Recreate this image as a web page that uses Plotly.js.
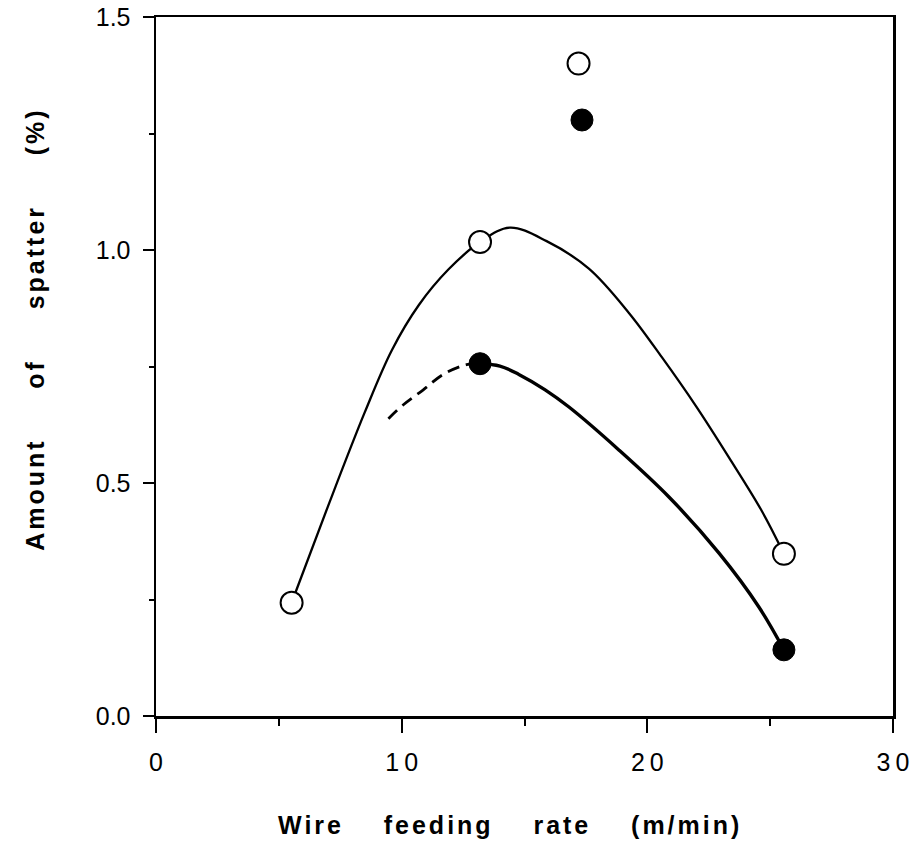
<!DOCTYPE html>
<html><head><meta charset="utf-8">
<script src="https://cdn.plot.ly/plotly-3.0.1.min.js"></script>
<style>body{margin:0;background:#fff}</style>
</head><body>
<div id="chart" style="width:919px;height:848px"></div>
<script>
// Data
const openX = [5.52, 13.19, 17.2, 25.56];
const openY = [0.243, 1.017, 1.40, 0.348];
const filledX = [13.19, 17.34, 25.56];
const filledY = [0.756, 1.279, 0.142];
const curveOpenX = [5.52, 7.0, 8.5, 9.6, 10.7, 11.9, 13.19, 14.4, 15.9, 17.62, 19.25, 20.59, 21.98, 23.32, 24.66, 25.56];
const curveOpenY = [0.243, 0.45, 0.652, 0.785, 0.882, 0.958, 1.017, 1.048, 1.019, 0.96, 0.865, 0.77, 0.665, 0.555, 0.44, 0.348];
const curveFilledX = [13.19, 14.0, 14.77, 15.84, 16.81, 18.84, 20.88, 22.91, 24.54, 25.56];
const curveFilledY = [0.756, 0.751, 0.733, 0.700, 0.663, 0.571, 0.470, 0.350, 0.234, 0.142];
const dashX = [9.46, 10.07, 10.88, 11.69, 12.64, 13.19];
const dashY = [0.638, 0.668, 0.70, 0.733, 0.754, 0.756];
const xTickVals = [0, 10, 20, 30];
const xTickText = ["0", "1\u20090", "2\u20090", "3\u20090"];
const yTickVals = [0, 0.5, 1.0, 1.5];
const yTickText = ["0.0", "0.5", "1.0", "1.5"];
const xTitle = ["Wire", "feeding", "rate", "(m/min)"].join("\u00a0\u00a0\u00a0\u00a0");
const yTitle = ["Amount", "of", "spatter", "(%)"].join("\u00a0\u00a0\u00a0\u00a0\u00a0");

const font = "Liberation Sans, Arial, sans-serif";
const traces = [
  {x: curveOpenX, y: curveOpenY, mode: "lines", line: {color: "#000", width: 2.3, shape: "spline", smoothing: 1, simplify: false}, hoverinfo: "skip"},
  {x: curveFilledX, y: curveFilledY, mode: "lines", line: {color: "#000", width: 3.4, shape: "spline", smoothing: 1, simplify: false}, hoverinfo: "skip"},
  {x: dashX, y: dashY, mode: "lines", line: {color: "#000", width: 2.8, dash: "12px,7px", shape: "spline", smoothing: 1, simplify: false}, hoverinfo: "skip"},
  {x: openX, y: openY, mode: "markers", marker: {symbol: "circle", size: 22, color: "#fff", line: {color: "#000", width: 2}}},
  {x: filledX, y: filledY, mode: "markers", marker: {symbol: "circle", size: 22, color: "#000", line: {color: "#000", width: 1}}}
];
const layout = {
  width: 919, height: 848,
  margin: {l: 156, r: 26, t: 17, b: 132},
  paper_bgcolor: "#fff", plot_bgcolor: "#fff",
  showlegend: false,
  font: {family: font, color: "#000"},
  xaxis: {
    range: [0, 30], showgrid: false, zeroline: false,
    showline: true, linecolor: "#000", linewidth: 2.5, mirror: true,
    ticks: "outside", ticklen: 14, tickwidth: 2, tickcolor: "#000",
    tickvals: xTickVals, ticktext: xTickText, ticklabelstandoff: 8,
    tickfont: {family: font, size: 25, color: "#000"},
    minor: {tickvals: [5, 15, 25], ticks: "outside", ticklen: 7, tickwidth: 2, tickcolor: "#000", showgrid: false}
  },
  yaxis: {
    range: [0, 1.5], showgrid: false, zeroline: false,
    showline: true, linecolor: "#000", linewidth: 2.5, mirror: true,
    ticks: "outside", ticklen: 11, tickwidth: 2, tickcolor: "#000",
    tickvals: yTickVals, ticktext: yTickText, ticklabelstandoff: 7,
    tickfont: {family: font, size: 25, color: "#000"},
    minor: {tickvals: [0.25, 0.75, 1.25], ticks: "outside", ticklen: 5, tickwidth: 2, tickcolor: "#000", showgrid: false}
  },
  annotations: [
    {text: "<b>" + xTitle + "</b>", xref: "paper", yref: "paper", x: 0.48, y: -0.156, xanchor: "center", yanchor: "middle", showarrow: false, font: {family: font, size: 25, color: "#000"}},
    {text: "<b>" + yTitle + "</b>", xref: "paper", yref: "paper", x: -0.163, y: 0.553, xanchor: "center", yanchor: "middle", textangle: -90, showarrow: false, font: {family: font, size: 25, color: "#000"}}
  ]
};
Plotly.newPlot("chart", traces, layout, {displayModeBar: false, staticPlot: true}).then(function (gd) {
  gd.querySelectorAll(".annotation-text").forEach(function (t) {
    t.style.letterSpacing = "3px";
  });
});
</script>
</body></html>
